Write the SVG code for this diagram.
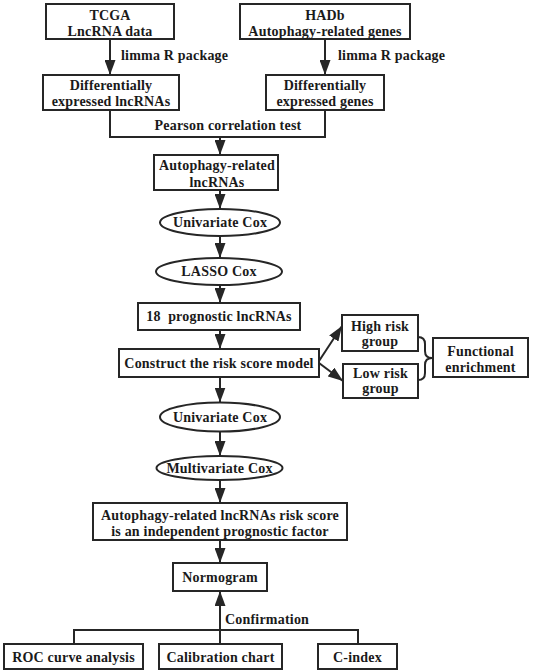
<svg xmlns="http://www.w3.org/2000/svg" width="536" height="672" viewBox="0 0 536 672">
<defs>
<style>
.box{fill:#fff;stroke:#262626;stroke-width:2}
.ell{fill:#fff;stroke:#262626;stroke-width:2}
.t{font-family:"Liberation Serif","Times New Roman",serif;font-weight:bold;font-size:14px;letter-spacing:0.2px;fill:#1a1a1a;text-anchor:middle}
.ts{text-anchor:start}
.ln{fill:none;stroke:#262626;stroke-width:2}
.ar{fill:none;stroke:#262626;stroke-width:2;marker-end:url(#ah)}
</style>
<marker id="ah" markerUnits="userSpaceOnUse" markerWidth="15" markerHeight="11" refX="15" refY="5.5" orient="auto">
<path d="M0,0 L15,5.5 L0,11 z" fill="#262626"/>
</marker>
</defs>
<rect width="536" height="672" fill="#fff"/>

<g id="connectors">
<path class="ar" d="M110,39 V75"/>
<path class="ar" d="M325,39 V75"/>
<path class="ln" d="M110,110 V137 H325 V110"/>
<path class="ar" d="M220,137 V155"/>
<path class="ar" d="M220,190 V209"/>
<path class="ar" d="M220,236 V258"/>
<path class="ar" d="M220,285 V303"/>
<path class="ar" d="M220,330 V349"/>
<path class="ar" d="M319,361 L342,326"/>
<path class="ar" d="M319,363 L343,381"/>
<path class="ar" d="M220,377 V402.5"/>
<path class="ar" d="M220,431.5 V456"/>
<path class="ar" d="M220,480 V503"/>
<path class="ar" d="M220,540 V563"/>
<path class="ar" d="M220,644 V591"/>
<path class="ln" d="M74,644 V630 H358 V644"/>
<path class="ln" d="M418,337 Q425,337 425,344 L425,351 Q425,358 432,358 Q425,358 425,365 L425,373 Q425,380 418,380"/>
<text class="t ts" x="121" y="60">limma R package</text>
<text class="t ts" x="338" y="60">limma R package</text>
<text class="t" x="228" y="130">Pearson correlation test</text>
<text class="t ts" x="225" y="624">Confirmation</text>
</g>

<g id="tcga">
<rect class="box" x="46" y="4" width="128" height="35"/>
<text class="t" x="110" y="20">TCGA</text>
<text class="t" x="110" y="36">LncRNA data</text>
</g>
<g id="hadb">
<rect class="box" x="240" y="4" width="170" height="35"/>
<text class="t" x="325" y="20">HADb</text>
<text class="t" x="325" y="36">Autophagy-related genes</text>
</g>
<g id="diff-lnc">
<rect class="box" x="43" y="75" width="136" height="35"/>
<text class="t" x="111" y="90">Differentially</text>
<text class="t" x="111" y="106">expressed lncRNAs</text>
</g>
<g id="diff-genes">
<rect class="box" x="266" y="75" width="118" height="35"/>
<text class="t" x="325" y="90">Differentially</text>
<text class="t" x="325" y="106">expressed genes</text>
</g>
<g id="autophagy-lnc">
<rect class="box" x="154" y="155" width="124" height="35"/>
<text class="t" x="217" y="170">Autophagy-related</text>
<text class="t" x="217" y="187">lncRNAs</text>
</g>
<g id="univariate1">
<ellipse class="ell" cx="220" cy="222.5" rx="60" ry="13.5"/>
<text class="t" x="220" y="227">Univariate Cox</text>
</g>
<g id="lasso">
<ellipse class="ell" cx="219" cy="271.5" rx="63" ry="13.5"/>
<text class="t" x="219" y="276">LASSO Cox</text>
</g>
<g id="prognostic">
<rect class="box" x="138" y="303" width="162" height="27"/>
<text class="t" x="219" y="321" xml:space="preserve">18  prognostic lncRNAs</text>
</g>
<g id="construct">
<rect class="box" x="119" y="349" width="200" height="28"/>
<text class="t" x="219" y="368">Construct the risk score model</text>
</g>
<g id="high-risk">
<rect class="box" x="342" y="315" width="76" height="36"/>
<text class="t" x="380" y="331">High risk</text>
<text class="t" x="380" y="346">group</text>
</g>
<g id="low-risk">
<rect class="box" x="343" y="364" width="75" height="34"/>
<text class="t" x="380.5" y="378">Low risk</text>
<text class="t" x="380.5" y="393">group</text>
</g>
<g id="functional">
<rect class="box" x="433" y="338" width="95" height="39"/>
<text class="t" x="480.5" y="356">Functional</text>
<text class="t" x="480.5" y="372">enrichment</text>
</g>
<g id="univariate2">
<ellipse class="ell" cx="220" cy="417" rx="60" ry="14.5"/>
<text class="t" x="220" y="422">Univariate Cox</text>
</g>
<g id="multivariate">
<ellipse class="ell" cx="219.5" cy="468" rx="63" ry="12"/>
<text class="t" x="219.5" y="473">Multivariate Cox</text>
</g>
<g id="independent">
<rect class="box" x="93" y="503" width="254" height="37"/>
<text class="t" x="220" y="520">Autophagy-related lncRNAs risk score</text>
<text class="t" x="220" y="536">is an independent prognostic factor</text>
</g>
<g id="normogram">
<rect class="box" x="173" y="563" width="94" height="28"/>
<text class="t" x="220" y="582">Normogram</text>
</g>
<g id="roc">
<rect class="box" x="4" y="644" width="139" height="25"/>
<text class="t" x="73.5" y="662">ROC curve analysis</text>
</g>
<g id="calibration">
<rect class="box" x="159" y="644" width="123" height="25"/>
<text class="t" x="220.5" y="662">Calibration chart</text>
</g>
<g id="cindex">
<rect class="box" x="318" y="644" width="79" height="25"/>
<text class="t" x="357.5" y="662">C-index</text>
</g>
</svg>
